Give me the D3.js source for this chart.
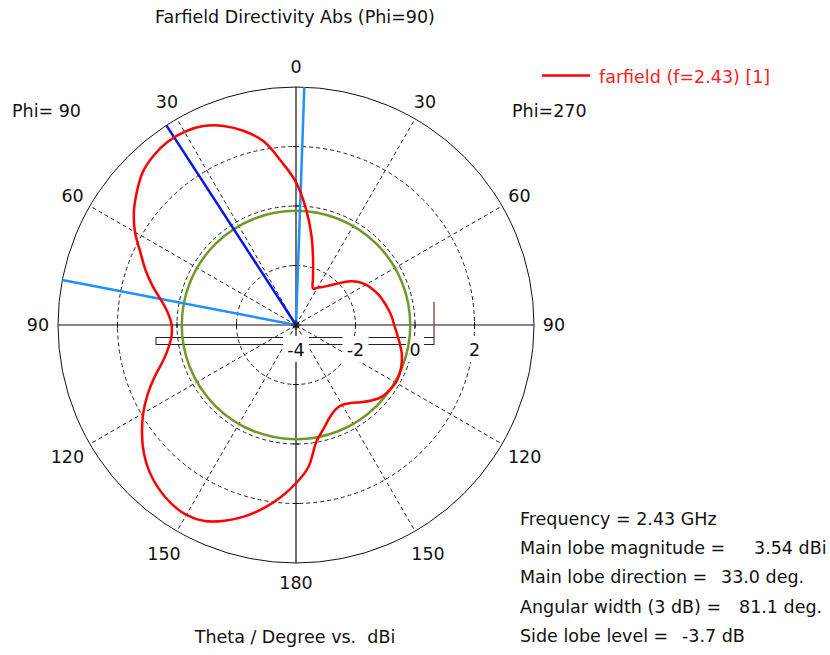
<!DOCTYPE html>
<html>
<head>
<meta charset="utf-8">
<script src="https://cdn.jsdelivr.net/npm/d3@7"></script>
<style>
  html, body { margin: 0; padding: 0; background: #fff; }
  svg { display: block; font-family: "DejaVu Sans", Verdana, sans-serif; }
</style>
</head>
<body>
<svg id="chart" width="830" height="655"></svg>
<script>
// ---- data -------------------------------------------------------------
// Theta sample points (degrees) for each half-plane
const thetaDeg = [0, 5, 10, 15, 20, 25, 30, 35, 40, 45, 50, 55, 60, 65, 70, 75, 80, 85, 90,
                  95, 100, 105, 110, 115, 120, 125, 130, 135, 140, 145, 150, 155, 160, 165, 170, 175, 180];
// Directivity (dBi) in the Phi=90 half (drawn on the left)
const dirPhi90 = [0.80, 1.50, 2.27, 2.75, 3.12, 3.38, 3.50, 3.52, 3.44, 3.28, 2.98, 2.65, 2.25,
                  1.77, 1.38, 0.98, 0.58, 0.31, 0.18, 0.20, 0.35, 0.62, 1.05, 1.50, 1.93, 2.32,
                  2.68, 2.97, 3.18, 3.32, 3.37, 3.27, 3.00, 2.66, 2.25, 1.80, 1.32];
// Directivity (dBi) in the Phi=270 half (drawn on the right)
const dirPhi270 = [0.80, -0.10, -0.98, -1.78, -2.33, -2.65, -2.55, -2.44, -2.27, -2.03, -1.72,
                   -1.47, -1.29, -1.16, -1.04, -0.95, -0.86, -0.77, -0.70, -0.59, -0.46, -0.32,
                   -0.22, -0.15, -0.13, -0.17, -0.24, -0.41, -0.61, -0.80, -0.90, -0.86, -0.69,
                   -0.40, -0.03, 0.79, 1.32];

const radialTicks = [-4, -2, 0, 2];          // dB ring labels
const gridRings = [-2, 0, 2];                 // dashed rings
const angleTicks = [0, 30, 60, 90, 120, 150, 180];
const gridSpokes = [30, 60, 120, 150];

const frequencyGHz = 2.43;
const mainLobeMag = 3.54;       // dBi
const mainLobeDir = 33.0;       // deg, Phi=90 side
const angularWidth = 81.1;      // deg
const beamEdges = [-2.0, 79.1]; // deg, positive = Phi=90 side
const sideLobeLevel = -3.7;     // dB relative to main lobe

const infoLabels = ["Main lobe magnitude =", "Main lobe direction =", "Angular width (3 dB) =", "Side lobe level ="];
const infoValues = [mainLobeMag.toFixed(2) + " dBi", mainLobeDir.toFixed(1) + " deg.",
                    angularWidth.toFixed(1) + " deg.", sideLobeLevel.toFixed(1) + " dB"];

// ---- layout -----------------------------------------------------------
const svg = d3.select("#chart");
const cx = 296, cy = 325, R = 238;
const FS = 17.5;
const r = d3.scaleLinear().domain([-4, 4]).range([0, R]);
const rad = d => d * Math.PI / 180;
// angle convention: 0 = up, clockwise positive; Phi=90 side uses negative angles
const pt = (ang, rr) => [cx + rr * Math.sin(rad(ang)), cy - rr * Math.cos(rad(ang))];

const g = svg.append("g");

// dashed rings
g.selectAll("circle.ring").data(gridRings).join("circle")
  .attr("cx", cx).attr("cy", cy).attr("r", d => r(d))
  .attr("fill", "none").attr("stroke", "#222").attr("stroke-width", 1)
  .attr("stroke-dasharray", "4,3");

// dashed spokes on both sides
const spokeAngles = gridSpokes.flatMap(a => [a, -a]);
g.selectAll("line.spoke").data(spokeAngles).join("line")
  .attr("x1", cx).attr("y1", cy)
  .attr("x2", d => pt(d, R)[0]).attr("y2", d => pt(d, R)[1])
  .attr("stroke", "#222").attr("stroke-width", 1).attr("stroke-dasharray", "4,3");

// outer circle
g.append("circle").attr("cx", cx).attr("cy", cy).attr("r", r(4))
  .attr("fill", "none").attr("stroke", "#111").attr("stroke-width", 1);

// solid axes
g.append("line").attr("x1", cx - R).attr("x2", cx + R).attr("y1", cy).attr("y2", cy)
  .attr("stroke", "#111").attr("stroke-width", 1.2);
g.append("line").attr("x1", cx).attr("x2", cx).attr("y1", cy - R).attr("y2", cy + R)
  .attr("stroke", "#111").attr("stroke-width", 1.2);

// small ticks where rings cross the axes
gridRings.forEach(v => {
  const rr = r(v);
  [[cx + rr, cy, 0], [cx - rr, cy, 0], [cx, cy - rr, 1], [cx, cy + rr, 1]].forEach(([x, y, vert]) => {
    g.append("line")
      .attr("x1", vert ? x - 3 : x).attr("x2", vert ? x + 3 : x)
      .attr("y1", vert ? y : y - 3).attr("y2", vert ? y : y + 3)
      .attr("stroke", "#111").attr("stroke-width", 1);
  });
});

// scale bar under the horizontal axis
g.append("rect").attr("x", 156).attr("y", 337.5).attr("width", 278).attr("height", 7)
  .attr("fill", "none").attr("stroke", "#222").attr("stroke-width", 1);
g.append("line").attr("x1", 434).attr("x2", 434).attr("y1", 302).attr("y2", 338)
  .attr("stroke", "#8a5555").attr("stroke-width", 1.5);

// radial tick labels with white backing
radialTicks.forEach(v => {
  const x = cx + r(v);
  const w = v < 0 ? 26 : 18;
  g.append("rect").attr("x", x - w / 2).attr("y", 336).attr("width", w).attr("height", 26)
    .attr("fill", "#fff");
  g.append("text").attr("x", x).attr("y", 356).attr("text-anchor", "middle")
    .attr("font-size", FS).attr("fill", "#111").text(v);
});

// angle labels
const angleLabelAngles = angleTicks.flatMap(a => (a === 0 || a === 180) ? [a] : [a, -a]);
g.selectAll("text.ang").data(angleLabelAngles).join("text")
  .attr("x", d => pt(d, Math.abs(d) >= 120 && Math.abs(d) < 180 ? 264 : 258)[0])
  .attr("y", d => pt(d, Math.abs(d) >= 120 && Math.abs(d) < 180 ? 264 : 258)[1])
  .attr("text-anchor", "middle").attr("dominant-baseline", "central")
  .attr("font-size", FS).attr("fill", "#111")
  .text(d => Math.abs(d));

// side lobe level circle
g.append("circle").attr("cx", cx).attr("cy", cy).attr("r", r(mainLobeMag + sideLobeLevel))
  .attr("fill", "none").attr("stroke", "#6f9a2a").attr("stroke-width", 2.5);

// 3 dB beam edges
g.selectAll("line.edge").data(beamEdges).join("line")
  .attr("x1", cx).attr("y1", cy)
  .attr("x2", d => pt(-d, R)[0]).attr("y2", d => pt(-d, R)[1])
  .attr("stroke", "#1e90ff").attr("stroke-width", 2.5);

// main lobe direction
g.append("line").attr("x1", cx).attr("y1", cy)
  .attr("x2", pt(-mainLobeDir, R)[0]).attr("y2", pt(-mainLobeDir, R)[1])
  .attr("stroke", "#0a14e6").attr("stroke-width", 2.5);

// directivity pattern
const pattern = [];
thetaDeg.forEach((t, i) => pattern.push({ a: t, v: dirPhi270[i] }));
for (let i = thetaDeg.length - 2; i >= 1; i--) pattern.push({ a: 360 - thetaDeg[i], v: dirPhi90[i] });
const radial = d3.lineRadial()
  .angle(d => rad(d.a))
  .radius(d => r(Math.max(-4, d.v)))
  .curve(d3.curveCatmullRomClosed.alpha(0.5));
g.append("path").attr("transform", `translate(${cx},${cy})`)
  .attr("d", radial(pattern))
  .attr("fill", "none").attr("stroke", "#ff0000").attr("stroke-width", 2.5);

// centre marker
d3.range(0, 180, 45).forEach(a => {
  const p1 = pt(a, 5), p2 = pt(a + 180, 5);
  g.append("line").attr("x1", p1[0]).attr("y1", p1[1]).attr("x2", p2[0]).attr("y2", p2[1])
    .attr("stroke", "#111").attr("stroke-width", 1);
});

// titles and captions
svg.append("text").attr("x", 295).attr("y", 23).attr("text-anchor", "middle")
  .attr("font-size", FS).attr("fill", "#111").text("Farfield Directivity Abs (Phi=90)");
svg.append("text").attr("x", 12).attr("y", 117)
  .attr("font-size", FS).attr("fill", "#111").text("Phi= 90");
svg.append("text").attr("x", 512).attr("y", 117)
  .attr("font-size", FS).attr("fill", "#111").text("Phi=270");
svg.append("text").attr("x", 295).attr("y", 643).attr("text-anchor", "middle")
  .attr("font-size", FS).attr("fill", "#111").attr("xml:space", "preserve")
  .style("white-space", "pre").text("Theta / Degree vs.  dBi");

// legend
svg.append("line").attr("x1", 542).attr("x2", 590).attr("y1", 75.5).attr("y2", 75.5)
  .attr("stroke", "#ff0000").attr("stroke-width", 2.5);
svg.append("text").attr("x", 599).attr("y", 83)
  .attr("font-size", FS).attr("fill", "#ff2020").text(`farfield (f=${frequencyGHz}) [1]`);

// result summary
const infoX = 520, valueX = [754, 721, 739, 682];
svg.append("text").attr("x", infoX).attr("y", 525)
  .attr("font-size", FS).attr("fill", "#111").text(`Frequency = ${frequencyGHz} GHz`);
infoLabels.forEach((lab, i) => {
  const y = 525 + 29.2 * (i + 1);
  svg.append("text").attr("x", infoX).attr("y", y)
    .attr("font-size", FS).attr("fill", "#111").text(lab);
  svg.append("text").attr("x", valueX[i]).attr("y", y)
    .attr("font-size", FS).attr("fill", "#111").text(infoValues[i]);
});
</script>
</body>
</html>
